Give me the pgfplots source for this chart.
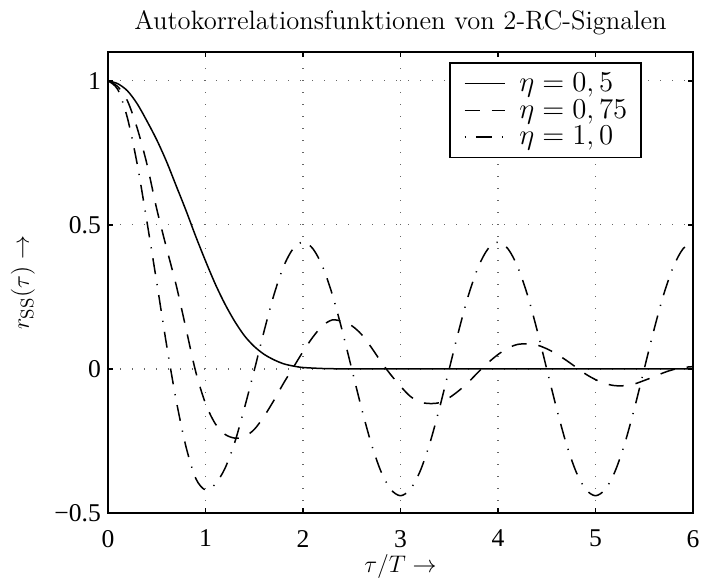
\documentclass[border=0pt]{standalone}
\usepackage{fontspec}
\usepackage{pgfplots}
\pgfplotsset{compat=1.18}
\newfontfamily\timesfont{Liberation Serif}
\begin{document}
\begin{tikzpicture}
\begin{axis}[
  scale only axis,
  width=292.5pt, height=230.5pt,
  xmin=0, xmax=6, ymin=-0.5, ymax=1.1,
  xtick={0,1,2,3,4,5,6},
  xticklabels={0,1,2,3,4,5,6},
  ytick={-0.5,0,0.5,1},
  yticklabels={−0.5,0,0.5,1},
  tick align=inside,
  xtick pos=both, ytick pos=both,
  major tick length=2.5pt,
  tick style={line width=0.7pt, black},
  axis line style={line width=0.9pt},
  tick label style={font=\timesfont\fontsize{12.8}{15}\selectfont},
  xticklabel style={yshift=-5pt},
  grid=major,
  major grid style={black!60, line width=0.6pt, dash pattern=on 0.7pt off 5.3pt},
  title={Autokorrelationsfunktionen von 2-RC-Signalen},
  title style={font=\fontsize{13.3}{16}\selectfont, at={(axis description cs:0.5,1)}, anchor=base, yshift=5pt},
  xlabel={$\tau/T \rightarrow$},
  xlabel style={font=\fontsize{13}{16}\selectfont, at={(axis description cs:0.5,0)}, anchor=north, yshift=-17pt},
  ylabel={$r_{\mathrm{SS}}(\tau) \rightarrow$},
  ylabel style={font=\fontsize{13}{16}\selectfont, at={(axis description cs:-0.113,0.5)}, anchor=south},
  legend style={at={(0.913,0.978)}, anchor=north east, draw=black, line width=0.8pt, fill=white,
    font=\fontsize{13.4}{15}\selectfont, inner xsep=7pt, inner ysep=3pt, row sep=-1.5pt,
    nodes={inner xsep=0pt}},
  legend cell align=left,
  legend image code/.code={\draw[#1] (0pt,0pt) -- (20pt,0pt); \path (27pt,0pt);},
]
\addplot[black, line width=0.75pt, smooth] coordinates {
(0,1) (0.1,0.99) (0.2,0.965) (0.3,0.92) (0.4,0.86) (0.5,0.795) (0.6,0.72) (0.7,0.635)
(0.8,0.55) (0.9,0.46) (1.0,0.375) (1.1,0.295) (1.2,0.225) (1.3,0.165) (1.4,0.115)
(1.5,0.078) (1.6,0.051) (1.7,0.032) (1.8,0.018) (1.9,0.01) (2.0,0.005) (2.2,0.0015)
(2.4,0.0003) (2.7,0) (3,0) (4,0) (5,0) (6,0)
};
\addlegendentry{$\eta=0,5$}
\addplot[black, line width=0.75pt, smooth, dash pattern=on 7.5pt off 6pt] coordinates {
(0,1) (0.1,0.98) (0.2,0.93) (0.3,0.835) (0.4,0.71) (0.5,0.555) (0.6,0.42) (0.7,0.29)
(0.8,0.14) (0.9,-0.01) (1.0,-0.12) (1.1,-0.19) (1.2,-0.227) (1.3,-0.24) (1.4,-0.235)
(1.5,-0.21) (1.6,-0.165) (1.7,-0.11) (1.8,-0.05) (1.9,0.005) (2.0,0.06) (2.1,0.11)
(2.2,0.15) (2.3,0.17) (2.4,0.165) (2.5,0.15) (2.6,0.12) (2.7,0.075) (2.8,0.025)
(2.9,-0.02) (3.0,-0.06) (3.1,-0.095) (3.2,-0.115) (3.3,-0.12) (3.4,-0.117) (3.5,-0.10)
(3.6,-0.075) (3.7,-0.045) (3.8,-0.01) (3.9,0.022) (4.0,0.05) (4.1,0.072) (4.2,0.085)
(4.3,0.087) (4.4,0.083) (4.5,0.07) (4.6,0.052) (4.7,0.03) (4.8,0.006) (4.9,-0.018)
(5.0,-0.037) (5.1,-0.051) (5.2,-0.058) (5.3,-0.058) (5.4,-0.052) (5.5,-0.04)
(5.6,-0.027) (5.7,-0.013) (5.8,-0.002) (5.9,0.005) (6.0,0.008)
};
\addlegendentry{$\eta=0,75$}
\addplot[black, line width=0.75pt, smooth, dash pattern=on 8pt off 5pt on 0.6pt off 5pt,
  legend image post style={dash phase=13pt}] coordinates {
(0,1) (0.1,0.97) (0.2,0.87) (0.3,0.71) (0.4,0.51) (0.5,0.30) (0.6,0.085) (0.7,-0.11)
(0.8,-0.27) (0.9,-0.38) (1.0,-0.42) (1.1,-0.40) (1.2,-0.345) (1.3,-0.255) (1.4,-0.135)
(1.5,-0.005) (1.6,0.13) (1.7,0.255) (1.8,0.355) (1.9,0.418) (2.0,0.44)
(2.1,0.418) (2.2,0.356) (2.3,0.259) (2.4,0.136) (2.5,0) (2.6,-0.136) (2.7,-0.259)
(2.8,-0.356) (2.9,-0.418) (3.0,-0.44) (3.1,-0.418) (3.2,-0.356) (3.3,-0.259)
(3.4,-0.136) (3.5,0) (3.6,0.136) (3.7,0.259) (3.8,0.356) (3.9,0.418) (4.0,0.44)
(4.1,0.418) (4.2,0.356) (4.3,0.259) (4.4,0.136) (4.5,0) (4.6,-0.136) (4.7,-0.259)
(4.8,-0.356) (4.9,-0.418) (5.0,-0.44) (5.1,-0.418) (5.2,-0.356) (5.3,-0.259)
(5.4,-0.136) (5.5,0) (5.6,0.136) (5.7,0.259) (5.8,0.356) (5.9,0.418) (6.0,0.44)
};
\addlegendentry{$\eta=1,0$}
\end{axis}
\pgfresetboundingbox
\path[use as bounding box] (-54pt,-32.5pt) rectangle (297pt,256.5pt);
\end{tikzpicture}
\end{document}
